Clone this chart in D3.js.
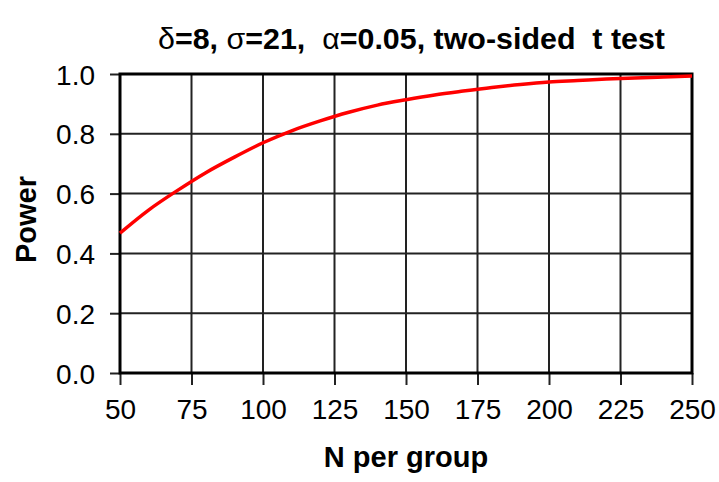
<!DOCTYPE html>
<html>
<head>
<meta charset="utf-8">
<script src="https://cdn.jsdelivr.net/npm/d3@7"></script>
<style>
  body { margin: 0; background: #fff; }
  text { font-family: "Liberation Sans", Arial, sans-serif; }
</style>
</head>
<body>
<div id="chart-area"></div>
<script>
// values
const nPerGroup = [50, 60, 70, 80, 90, 100, 110, 120, 130, 140, 150, 160, 170, 180, 190, 200, 210, 220, 230, 240, 250]
const power = [0.468, 0.545, 0.61, 0.67, 0.722, 0.77, 0.81, 0.843, 0.872, 0.896, 0.914, 0.93, 0.943, 0.955, 0.965, 0.973, 0.978, 0.983, 0.987, 0.99, 0.993]
const xTicks = [50, 75, 100, 125, 150, 175, 200, 225, 250]
const yTicks = [0, 0.2, 0.4, 0.6, 0.8, 1.0]
// title pieces: [text, bold?]
const titleParts = [["δ", false], ["=8, ", true], ["σ", false], ["=21,  ", true], ["α", false], ["=0.05, two-sided  t test", true]]

const MARGIN = { LEFT: 120, RIGHT: 27, TOP: 74, BOTTOM: 109 }
const WIDTH = 719 - MARGIN.LEFT - MARGIN.RIGHT
const HEIGHT = 482 - MARGIN.TOP - MARGIN.BOTTOM

const svg = d3.select("#chart-area").append("svg")
    .attr("width", 719)
    .attr("height", 482)

const g = svg.append("g")
    .attr("transform", `translate(${MARGIN.LEFT}, ${MARGIN.TOP})`)

// Scales
const x = d3.scaleLinear()
    .range([0, WIDTH])
    .domain([50, 250])

const y = d3.scaleLinear()
    .range([HEIGHT, 0])
    .domain([0, 1])

// Grid
g.selectAll(".vgrid")
    .data(xTicks)
    .enter().append("line")
    .attr("x1", d => x(d)).attr("x2", d => x(d))
    .attr("y1", 0).attr("y2", HEIGHT)
    .attr("stroke", "#222").attr("stroke-width", 2)
g.selectAll(".hgrid")
    .data(yTicks)
    .enter().append("line")
    .attr("x1", 0).attr("x2", WIDTH)
    .attr("y1", d => y(d)).attr("y2", d => y(d))
    .attr("stroke", "#222").attr("stroke-width", 2)

// X Axis
const xAxisCall = d3.axisBottom(x)
    .tickValues(xTicks)
    .tickSize(12)
    .tickPadding(14)
    .tickFormat(d3.format("d"))
const xAxis = g.append("g")
    .attr("class", "x axis")
    .attr("transform", `translate(0, ${HEIGHT})`)
    .call(xAxisCall)

// Y Axis
const yAxisCall = d3.axisLeft(y)
    .tickValues(yTicks)
    .tickSize(10)
    .tickPadding(15)
    .tickFormat(d3.format(".1f"))
const yAxis = g.append("g")
    .attr("class", "y axis")
    .call(yAxisCall)

svg.selectAll(".axis .domain").remove()
svg.selectAll(".axis line").attr("stroke", "#222").attr("stroke-width", 2)
svg.selectAll(".axis text")
    .attr("font-size", "28px")
    .attr("fill", "#000")
    .style("font-family", "'Liberation Sans', Arial, sans-serif")
yAxis.selectAll("text").attr("dy", "0.36em")

// Plot border
g.append("rect")
    .attr("width", WIDTH).attr("height", HEIGHT)
    .attr("fill", "none").attr("stroke", "#000").attr("stroke-width", 3)

// Curve
const line = d3.line()
    .x((d, i) => x(nPerGroup[i]))
    .y(d => y(d))
    .curve(d3.curveMonotoneX)
g.append("path")
    .datum(power)
    .attr("d", line)
    .attr("fill", "none")
    .attr("stroke", "#ff0000")
    .attr("stroke-width", 3.5)

// Labels
const title = svg.append("text")
    .attr("x", 158)
    .attr("y", 49)
    .attr("font-size", "29px")
    .attr("textLength", 507)
    .attr("lengthAdjust", "spacingAndGlyphs")
    .style("white-space", "pre")
title.selectAll("tspan")
    .data(titleParts)
    .enter().append("tspan")
    .attr("font-weight", d => d[1] ? "bold" : "normal")
    .text(d => d[0])

const xLabel = g.append("text")
    .attr("y", HEIGHT + 94)
    .attr("x", WIDTH / 2)
    .attr("font-size", "29px")
    .attr("font-weight", "bold")
    .attr("text-anchor", "middle")
    .text("N per group")
const yLabel = g.append("text")
    .attr("transform", "rotate(-90)")
    .attr("y", -84)
    .attr("x", -HEIGHT / 2 + 4)
    .attr("font-size", "29px")
    .attr("font-weight", "bold")
    .attr("text-anchor", "middle")
    .text("Power")
</script>
</body>
</html>
